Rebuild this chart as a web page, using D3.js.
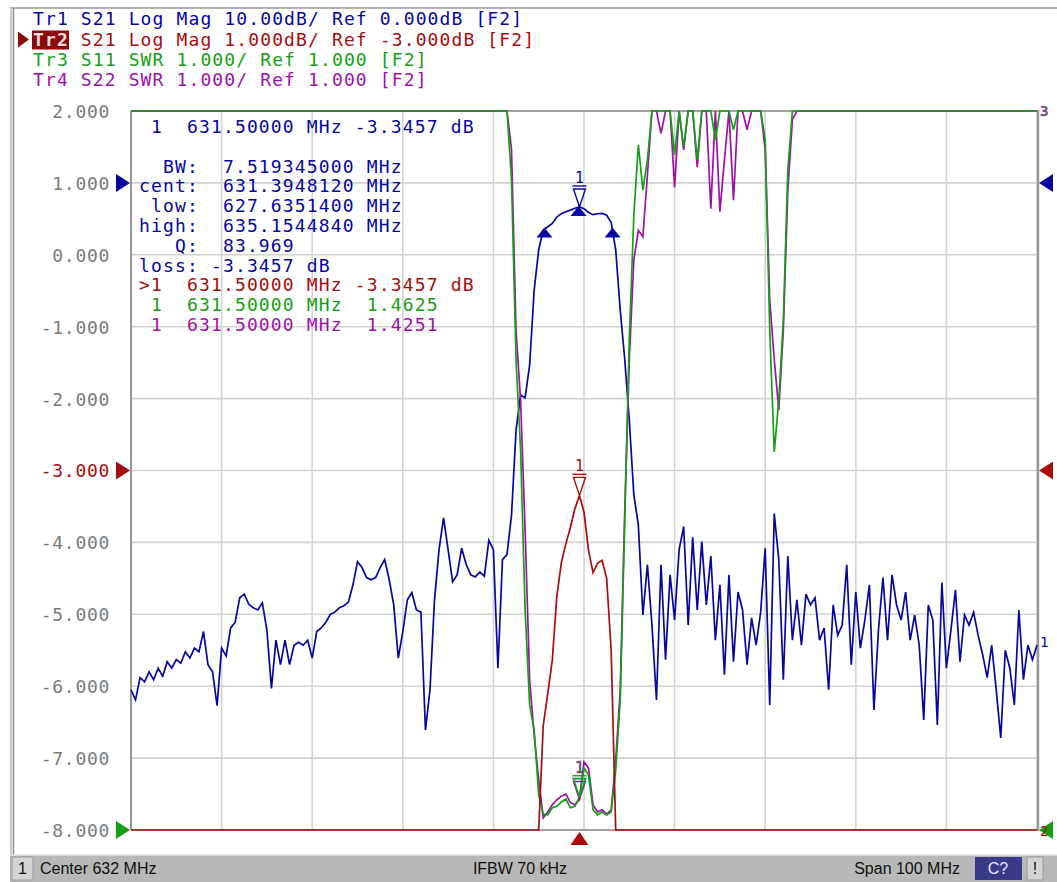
<!DOCTYPE html>
<html><head><meta charset="utf-8">
<script src="https://cdn.jsdelivr.net/npm/d3@7"></script>
<style>
html,body{margin:0;padding:0;background:#fff;overflow:hidden;}
svg{display:block;}
text{white-space:pre;}
</style></head><body>
<svg id="c" width="1057" height="882" xml:space="preserve"></svg>
<script>
// ---------------- DATA ----------------
const centerMHz = 632, spanMHz = 100, sweepPoints = 201;
const xTickValues = [582,592,602,612,622,632,642,652,662,672,682];
const yTickValues = [2,1,0,-1,-2,-3,-4,-5,-6,-7,-8];   // active trace (Tr2) scale

// S21 (dB) — shown by Tr1 (10 dB/div) and Tr2 (1 dB/div)
const s21 = [
-70.5,-71.9,-68.8,-69.4,-68.0,-69.1,-67.5,-68.6,-66.6,-67.5,
-66.3,-66.8,-65.2,-66.1,-64.7,-65.2,-62.4,-67.0,-68.0,-72.7,
-64.7,-65.8,-61.9,-61.1,-57.7,-57.2,-58.6,-59.1,-59.4,-58.4,
-62.2,-70.3,-63.6,-67.0,-63.6,-67.0,-64.3,-63.9,-64.3,-63.6,
-66.1,-62.4,-61.9,-61.1,-60.0,-59.7,-59.1,-58.8,-58.3,-55.9,
-52.7,-53.5,-54.9,-55.2,-54.9,-53.5,-52.4,-55.2,-58.7,-66.1,
-62.4,-58.0,-57.0,-59.4,-59.7,-76.1,-70.5,-58.0,-51.0,-46.6,
-51.0,-55.5,-54.5,-50.8,-53.1,-54.5,-54.8,-54.1,-54.7,-49.7,
-51.0,-67.5,-52.4,-51.7,-46.2,-34.4,-29.5,-29.9,-25.3,-14.9,
-9.3,-6.55,-6.10,-5.64,-4.75,-4.28,-4.02,-3.79,-3.53,-3.35,
-3.58,-4.11,-4.42,-4.29,-4.25,-4.50,-5.50,-9.3,-17.7,-24.6,
-33.0,-43.4,-47.6,-60.1,-53.1,-61.5,-71.9,-53.1,-66.3,-54.5,
-60.8,-51.0,-47.8,-61.5,-49.3,-59.4,-49.9,-58.7,-51.9,-63.6,
-55.9,-68.4,-54.5,-66.6,-56.9,-59.4,-67.0,-60.5,-64.3,-59.7,
-50.8,-72.6,-46.0,-52.4,-69.1,-51.9,-63.6,-58.0,-64.3,-57.2,
-58.7,-57.7,-63.6,-61.9,-70.5,-58.7,-62.9,-61.5,-53.1,-67.0,
-56.9,-64.7,-60.8,-55.9,-73.3,-62.2,-54.9,-63.6,-54.5,-58.7,
-60.8,-56.9,-63.6,-60.1,-64.3,-74.7,-58.7,-60.8,-75.4,-55.6,
-67.5,-62.2,-56.6,-66.6,-60.1,-61.5,-59.7,-62.9,-65.6,-68.8,
-64.3,-70.5,-77.2,-65.0,-67.5,-72.6,-59.4,-69.1,-64.3,-66.3,
-64.3];

// S11 SWR — Tr3 (values of 30 are far above the top of the grid)
const s11 = [
30,30,30,30,30,30,30,30,30,30, 30,30,30,30,30,30,30,30,30,30,
30,30,30,30,30,30,30,30,30,30, 30,30,30,30,30,30,30,30,30,30,
30,30,30,30,30,30,30,30,30,30, 30,30,30,30,30,30,30,30,30,30,
30,30,30,30,30,30,30,30,30,30, 30,30,30,30,30,30,30,30,30,30,
30,30,30,30,10.04,7.54,6.29,4.06,2.74,2.39,
1.49,1.22,1.21,1.31,1.33,1.39,1.43,1.31,1.33,1.4625,
1.86,1.76,1.28,1.21,1.25,1.21,1.25,1.83,2.81,5.31,
7.82,9.55,10.53,9.90,10.32,30,30,30,30,30,
10.39,30,10.50,30,30,10.32,30,30,30,10.60,
30,30,30,10.74,30,30,30,30,30,30,
10.60,7.95,6.26,6.98,8.09,10.18,30,30,30,30,
30,30,30,30,30,30,30,30,30,30, 30,30,30,30,30,30,30,30,30,30,
30,30,30,30,30,30,30,30,30,30, 30,30,30,30,30,30,30,30,30,30,
30,30,30,30,30,30,30,30,30,30, 30];

// S22 SWR — Tr4
const s22 = [
30,30,30,30,30,30,30,30,30,30, 30,30,30,30,30,30,30,30,30,30,
30,30,30,30,30,30,30,30,30,30, 30,30,30,30,30,30,30,30,30,30,
30,30,30,30,30,30,30,30,30,30, 30,30,30,30,30,30,30,30,30,30,
30,30,30,30,30,30,30,30,30,30, 30,30,30,30,30,30,30,30,30,30,
30,30,30,30,10.46,7.95,6.98,5.17,3.09,2.32,
1.70,1.17,1.25,1.35,1.42,1.47,1.50,1.38,1.35,1.4251,
1.95,1.86,1.35,1.25,1.28,1.22,1.28,1.97,2.95,5.45,
7.54,8.93,9.34,9.25,10.11,30,30,10.69,30,30,
9.94,30,10.46,30,30,10.22,30,30,9.64,30,
9.60,10.32,30,9.76,30,30,10.74,30,30,30,
10.46,8.37,7.54,6.84,7.95,9.90,10.88,30,30,30,
30,30,30,30,30,30,30,30,30,30, 30,30,30,30,30,30,30,30,30,30,
30,30,30,30,30,30,30,30,30,30, 30,30,30,30,30,30,30,30,30,30,
30,30,30,30,30,30,30,30,30,30, 30];

const headerTexts = [
  "Tr1 S21 Log Mag 10.00dB/ Ref 0.000dB [F2]",
  "Tr2 S21 Log Mag 1.000dB/ Ref -3.000dB [F2]",
  "Tr3 S11 SWR 1.000/ Ref 1.000 [F2]",
  "Tr4 S22 SWR 1.000/ Ref 1.000 [F2]"
];
const markerTexts = [
  " 1  631.50000 MHz -3.3457 dB",
  "",
  "  BW:  7.519345000 MHz",
  "cent:  631.3948120 MHz",
  " low:  627.6351400 MHz",
  "high:  635.1544840 MHz",
  "   Q:  83.969",
  "loss: -3.3457 dB",
  ">1  631.50000 MHz -3.3457 dB",
  " 1  631.50000 MHz  1.4625",
  " 1  631.50000 MHz  1.4251"
];
const markerTextTrace = [0,0,0,0,0,0,0,0,1,2,3];
const markerFreq = 631.5;
const markerValues = [-3.3457, -3.3457, 1.4625, 1.4251];
const bwFreqs = [627.63514, 631.394812, 635.154484];
const bwValues = [-6.3457, -3.36, -6.3457];
const statusTexts = ["1", "Center 632 MHz", "IFBW 70 kHz", "Span 100 MHz", "C?", "!"];

// ---------------- CHART ----------------
const COL = {blue:"#0606a0", red:"#a80c0c", green:"#14a014", mag:"#a010a8", grid:"#d2d2d2", axis:"#7a7a7a"};
const traces = [
  {name:"Tr1", data:s21, color:COL.blue,  perDiv:10, ref:0,  refPos:9},
  {name:"Tr2", data:s21, color:COL.red,   perDiv:1,  ref:-3, refPos:5},
  {name:"Tr3", data:s11, color:COL.green, perDiv:1,  ref:1,  refPos:0},
  {name:"Tr4", data:s22, color:COL.mag,   perDiv:1,  ref:1,  refPos:0}
];
const P = {l:131, r:1037, t:111, b:830};
const svg = d3.select("#c");
const f0 = centerMHz - spanMHz/2, f1 = centerMHz + spanMHz/2;
const freq = d3.range(sweepPoints).map(i => f0 + i*spanMHz/(sweepPoints-1));
const x = d3.scaleLinear().domain([f0,f1]).range([P.l,P.r]);
traces.forEach(t => {
  const lo = t.ref - t.refPos*t.perDiv, hi = lo + 10*t.perDiv;
  t.y = d3.scaleLinear().domain([lo,hi]).range([P.b,P.t]).clamp(true);
});
const yAct = traces[1].y;
const MONO = "'DejaVu Sans Mono', monospace";

// window frame
svg.append("rect").attr("x",0).attr("y",0).attr("width",1057).attr("height",882).attr("fill","#fff");
svg.append("line").attr("x1",10).attr("x2",1057).attr("y1",8).attr("y2",8).attr("stroke","#b4b4b4").attr("stroke-width",2);
svg.append("line").attr("x1",11).attr("x2",11).attr("y1",8).attr("y2",855).attr("stroke","#c8c8c8").attr("stroke-width",2);
svg.append("line").attr("x1",13.5).attr("x2",13.5).attr("y1",8).attr("y2",855).attr("stroke","#8c8c8c").attr("stroke-width",1.5);

// grid
const g = svg.append("g");
g.selectAll(".vg").data(xTickValues).join("line")
  .attr("x1",d=>x(d)).attr("x2",d=>x(d)).attr("y1",P.t).attr("y2",P.b)
  .attr("stroke",COL.grid).attr("stroke-width",1.6);
g.selectAll(".hg").data(yTickValues).join("line")
  .attr("x1",P.l).attr("x2",P.r).attr("y1",d=>yAct(d)).attr("y2",d=>yAct(d))
  .attr("stroke",COL.grid).attr("stroke-width",1.6);
// frame
svg.append("line").attr("x1",P.l).attr("x2",P.l).attr("y1",P.t).attr("y2",P.b).attr("stroke","#8e8e8e").attr("stroke-width",1.8);
svg.append("line").attr("x1",P.r+1).attr("x2",P.r+1).attr("y1",P.t-1).attr("y2",P.b+1).attr("stroke","#9a9a9a").attr("stroke-width",2.5);
svg.append("line").attr("x1",P.l).attr("x2",P.r).attr("y1",P.b).attr("y2",P.b).attr("stroke","#8e8e8e").attr("stroke-width",1.6);
svg.append("line").attr("x1",P.l).attr("x2",P.r).attr("y1",P.t).attr("y2",P.t).attr("stroke","#8e8e8e").attr("stroke-width",1.6);

// y axis (active trace scale)
const yAxis = d3.axisLeft(yAct).tickValues(yTickValues).tickSize(0).tickPadding(0)
  .tickFormat(d => d.toFixed(3));
const ya = svg.append("g").attr("transform",`translate(110,0)`).call(yAxis);
ya.select(".domain").remove();
ya.selectAll("text").attr("font-family",MONO).attr("font-size",18).attr("letter-spacing",0.7)
  .attr("fill",d => d===traces[1].ref ? COL.red : COL.axis).attr("dy","0.36em");

// traces
const drawOrder = [0,3,2,1];
drawOrder.forEach(k => {
  const t = traces[k];
  const line = d3.line().x((d,i)=>x(freq[i])).y(d=>t.y(d));
  svg.append("path").datum(t.data).attr("d",line).attr("fill","none")
    .attr("stroke",t.color).attr("stroke-width",1.7).attr("stroke-linejoin","miter");
});

// BW markers on Tr1 (filled up-triangles)
bwFreqs.forEach((f,i) => {
  const px = x(f), py = traces[0].y(bwValues[i]);
  svg.append("path").attr("d",`M${px},${py-1}L${px+8},${py+9}L${px-8},${py+9}Z`).attr("fill",COL.blue);
});

// trace markers
function marker(t, v, withLabel) {
  const px = x(markerFreq), py = t.y(v);
  const gm = svg.append("g").attr("stroke",t.color).attr("fill","none").attr("stroke-width",1.4);
  gm.append("path").attr("d",`M${px-6},${py-18}L${px+6},${py-18}L${px},${py}Z`);
  gm.append("line").attr("x1",px-7).attr("x2",px+7).attr("y1",py-21).attr("y2",py-21);
  if (withLabel) svg.append("text").attr("x",px).attr("y",py-24).attr("text-anchor","middle")
    .attr("font-family",MONO).attr("font-size",15).attr("fill",t.color)
    .attr("stroke", withLabel===2 ? COL.mag : null).attr("stroke-width",0.6).text("1");
}
marker(traces[3], markerValues[3], 0);
marker(traces[2], markerValues[2], 2);   // Tr3/Tr4 share one overlapping "1"
marker(traces[1], markerValues[1], 1);
marker(traces[0], markerValues[0], 1);

// active marker flag below grid
{ const px = x(markerFreq);
  svg.append("path").attr("d",`M${px},${P.b+2}L${px+9},${P.b+15}L${px-9},${P.b+15}Z`).attr("fill",COL.red); }

// reference level arrows
[2,1,0].forEach(k => {
  const t = traces[k], py = t.y(t.ref);
  svg.append("path").attr("d",`M${P.l-1},${py}L${P.l-15},${py-9}L${P.l-15},${py+9}Z`).attr("fill",t.color);
  svg.append("path").attr("d",`M${P.r+2},${py}L${P.r+16},${py-9}L${P.r+16},${py+9}Z`).attr("fill",t.color);
});

// trace end labels
svg.append("text").attr("x",P.r+3).attr("y",traces[0].y(s21[s21.length-1])+2).attr("font-family",MONO)
  .attr("font-size",14).attr("fill",COL.blue).text("1");
svg.append("text").attr("x",P.r+3).attr("y",P.t+5).attr("font-family",MONO).attr("font-size",14)
  .attr("fill",COL.green).attr("stroke",COL.mag).attr("stroke-width",0.6).text("3");
svg.append("text").attr("x",P.r+3).attr("y",P.b+6).attr("font-family",MONO).attr("font-size",14).attr("fill",COL.red).text("2");

// header
const hdr = svg.append("g").attr("font-family",MONO).attr("font-size",18).attr("letter-spacing",1.12);
const hdrY = [25,45.5,66,86];
headerTexts.forEach((s,i) => {
  const t = traces[i];
  if (i===1) {
    hdr.append("rect").attr("x",32).attr("y",hdrY[i]-15).attr("width",37).attr("height",19).attr("fill","#8c0a0a");
    hdr.append("path").attr("d",`M29,${hdrY[i]-6}L18,${hdrY[i]-14}L18,${hdrY[i]+2}Z`).attr("fill","#8c0a0a");
  }
  const tx = hdr.append("text").attr("x",33).attr("y",hdrY[i]);
  tx.append("tspan").attr("fill", i===1 ? "#f4e0e0" : t.color).attr("font-weight", i===1?"bold":null).text(s.slice(0,3));
  tx.append("tspan").attr("fill",t.color).text(s.slice(3));
});

// marker readout block
const mb = svg.append("g").attr("font-family",MONO).attr("font-size",18).attr("letter-spacing",1.15);
markerTexts.forEach((s,i) => {
  if (!s) return;
  mb.append("text").attr("x",139).attr("y",133 + i*19.8).attr("fill",traces[markerTextTrace[i]].color).text(s);
});

// status bar
const sb = svg.append("g");
sb.append("rect").attr("x",10).attr("y",855).attr("width",1047).attr("height",27).attr("fill","#b8b8b8");
sb.append("line").attr("x1",10).attr("x2",1057).attr("y1",855).attr("y2",855).attr("stroke","#e4e4e4").attr("stroke-width",1.5);
sb.append("rect").attr("x",12).attr("y",857).attr("width",21).attr("height",23).attr("fill","#d4d4d4").attr("stroke","#9a9a9a");
sb.append("rect").attr("x",975).attr("y",857).attr("width",47).attr("height",23).attr("fill","#3a3a88");
sb.append("rect").attr("x",1027).attr("y",857).attr("width",16).attr("height",23).attr("fill","#d4d4d4").attr("stroke","#9a9a9a");
const SF = "'Liberation Sans', Arial, sans-serif";
const sPos = [{x:22.5,a:"middle",c:"#101010"},{x:40,a:"start",c:"#101010"},{x:520,a:"middle",c:"#101010"},
              {x:960,a:"end",c:"#101010"},{x:998,a:"middle",c:"#e8e8ff"},{x:1035,a:"middle",c:"#101010"}];
statusTexts.forEach((s,i) => {
  sb.append("text").attr("x",sPos[i].x).attr("y",874).attr("text-anchor",sPos[i].a)
    .attr("font-family",SF).attr("font-size",16).attr("fill",sPos[i].c).text(s);
});
</script>
</body></html>
